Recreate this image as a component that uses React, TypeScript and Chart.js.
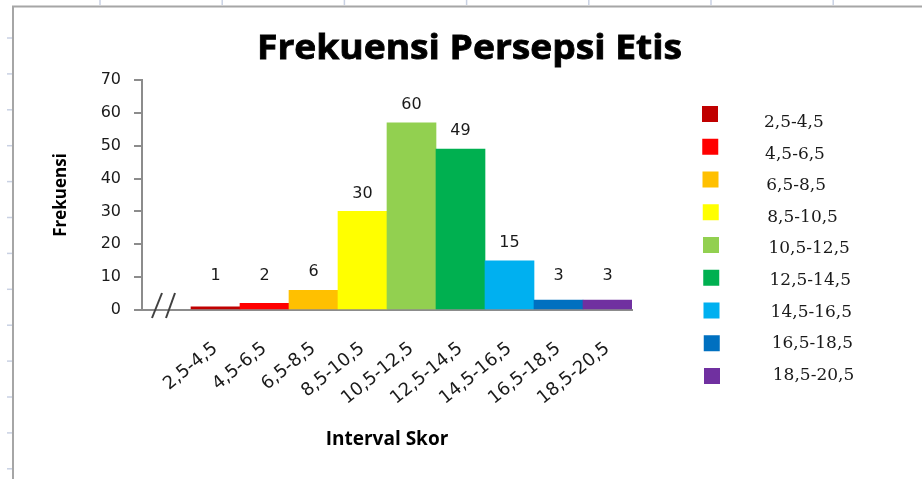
import React, { useEffect, useRef } from 'react';
import { Chart, registerables } from 'chart.js';

Chart.register(...registerables);

// ---- data ----
const TITLE = 'Frekuensi Persepsi Etis';
const X_TITLE = 'Interval Skor';
const Y_TITLE = 'Frekuensi';
const categories = ['2,5-4,5', '4,5-6,5', '6,5-8,5', '8,5-10,5', '10,5-12,5', '12,5-14,5', '14,5-16,5', '16,5-18,5', '18,5-20,5'];
// bar heights as drawn in the picture
const barHeights = [1, 2, 6, 30, 57, 49, 15, 3, 3];
// value labels printed above the bars
const labelValues = [1, 2, 6, 30, 60, 49, 15, 3, 3];
const colors = ['#C00000', '#FF0000', '#FFC000', '#FFFF00', '#92D050', '#00B050', '#00B0F0', '#0070C0', '#7030A0'];
const Y_MIN = 0;
const Y_MAX = 70;
const Y_STEP = 10;

const AXIS_COLOR = '#8c8c8c';
const TEXT_COLOR = '#1a1a1a';

const framePlugin = {
  id: 'frame',
  beforeDraw(chart: any) {
    const ctx = chart.ctx;
    ctx.save();
    ctx.fillStyle = '#ffffff';
    ctx.fillRect(0, 0, chart.width, chart.height);
    // faint sheet gridline marks
    ctx.strokeStyle = '#c9d1e3';
    ctx.lineWidth = 1.5;
    for (let x = 100; x < chart.width; x += 122.2) {
      ctx.beginPath();
      ctx.moveTo(x, 0);
      ctx.lineTo(x, 5);
      ctx.stroke();
    }
    for (let y = 38; y < chart.height; y += 35.9) {
      ctx.beginPath();
      ctx.moveTo(7, y);
      ctx.lineTo(12, y);
      ctx.stroke();
    }
    // frame border
    ctx.strokeStyle = '#a6a6a6';
    ctx.lineWidth = 2;
    ctx.beginPath();
    ctx.moveTo(13, chart.height);
    ctx.lineTo(13, 6.5);
    ctx.lineTo(chart.width, 6.5);
    ctx.stroke();
    ctx.restore();
  },
};

const decorPlugin = {
  id: 'decor',
  afterDraw(chart: any) {
    const ctx = chart.ctx;
    const area = chart.chartArea;
    const yScale = chart.scales.y;
    const meta = chart.getDatasetMeta(0);
    ctx.save();

    // title
    ctx.font = "bold 34px 'Open Sans'";
    ctx.fillStyle = '#000';
    ctx.textAlign = 'left';
    ctx.textBaseline = 'alphabetic';
    const w = ctx.measureText(TITLE).width;
    ctx.save();
    ctx.translate(257, 59);
    ctx.scale(425 / w, 1);
    ctx.fillText(TITLE, 0, 0);
    ctx.lineWidth = 0.8;
    ctx.strokeStyle = '#000';
    ctx.strokeText(TITLE, 0, 0);
    ctx.restore();

    // value labels
    ctx.font = "16px 'DejaVu Sans'";
    ctx.fillStyle = TEXT_COLOR;
    ctx.textAlign = 'center';
    ctx.textBaseline = 'middle';
    labelValues.forEach((v, i) => {
      const bar = meta.data[i + 1];
      if (!bar) return;
      const y = yScale.getPixelForValue(Math.max(barHeights[i], 5)) - 18;
      ctx.fillText(String(v), bar.x, y);
    });

    // axis break marks
    ctx.strokeStyle = '#404040';
    ctx.lineWidth = 2;
    const b = area.bottom;
    const l = area.left;
    [[10, 20], [24, 33]].forEach(([x0, x1]) => {
      ctx.beginPath();
      ctx.moveTo(l + x0, b + 8);
      ctx.lineTo(l + x1, b - 17);
      ctx.stroke();
    });

    // legend
    categories.forEach((c, i) => {
      const sy = 114 + i * 32.75;
      ctx.fillStyle = colors[i];
      ctx.fillRect(702 + i * 0.25, sy - 8, 16, 16);
      ctx.fillStyle = TEXT_COLOR;
      ctx.font = "17px 'DejaVu Serif'";
      ctx.textAlign = 'left';
      ctx.textBaseline = 'alphabetic';
      ctx.fillText(c, 764 + i * 1.1, 121 + i * 31.6 + 6);
    });
    ctx.restore();
  },
};

export default function App() {
  const ref = useRef<HTMLCanvasElement>(null);
  useEffect(() => {
    const chart = new Chart(ref.current as HTMLCanvasElement, {
      type: 'bar',
      data: {
        labels: ['', ...categories],
        datasets: [
          {
            data: [null, ...barHeights],
            backgroundColor: ['rgba(0,0,0,0)', ...colors],
            borderWidth: 0,
            categoryPercentage: 1,
            barPercentage: 1,
          },
        ],
      },
      options: {
        responsive: false,
        animation: false,
        devicePixelRatio: 1,
        layout: { padding: { left: 0, right: 290, top: 80, bottom: 0 } },
        plugins: {
          legend: { display: false },
          tooltip: { enabled: false },
          title: { display: false },
        },
        scales: {
          x: {
            type: 'category',
            offset: true,
            grid: { drawOnChartArea: false, drawTicks: false },
            border: { color: AXIS_COLOR, width: 2 },
            ticks: {
              autoSkip: false,
              minRotation: 39,
              maxRotation: 39,
              padding: 28,
              color: TEXT_COLOR,
              font: { family: "'DejaVu Sans'", size: 18 },
            },
            title: {
              display: true,
              text: X_TITLE,
              color: '#000',
              font: { family: "'Open Sans'", weight: 'bold', size: 19 },
              padding: { top: 0, bottom: 28 },
            },
            afterFit(scale: any) {
              scale.height = 169;
            },
          },
          y: {
            min: Y_MIN,
            max: Y_MAX,
            ticks: {
              stepSize: Y_STEP,
              padding: 13,
              color: TEXT_COLOR,
              font: { family: "'DejaVu Sans'", size: 16 },
            },
            grid: { drawOnChartArea: false, drawTicks: true, tickLength: 8, color: AXIS_COLOR, lineWidth: 2 },
            border: { color: AXIS_COLOR, width: 2 },
            title: {
              display: true,
              text: Y_TITLE,
              color: '#000',
              font: { family: "'Open Sans'", weight: 'bold', size: 17 },
              padding: { top: 51, bottom: 0 },
            },
            afterFit(scale: any) {
              scale.width = 142;
            },
          },
        },
      },
      plugins: [framePlugin, decorPlugin],
    } as any);
    return () => chart.destroy();
  }, []);
  return (
    <div style={{ position: 'fixed', left: 0, top: 0, width: 922, height: 479, background: '#fff' }}>
      <canvas ref={ref} width={922} height={479} style={{ display: 'block' }} />
    </div>
  );
}
